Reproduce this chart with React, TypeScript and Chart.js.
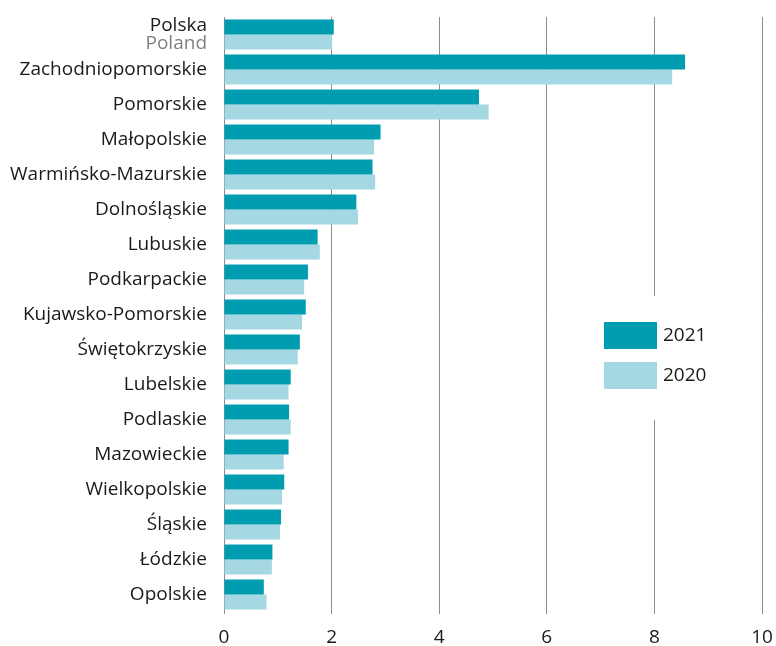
import React, { useEffect, useRef } from "react";
import { Chart, registerables } from "chart.js";

Chart.register(...registerables);

const categories = [
  "Polska",
  "Zachodniopomorskie",
  "Pomorskie",
  "Małopolskie",
  "Warmińsko-Mazurskie",
  "Dolnośląskie",
  "Lubuskie",
  "Podkarpackie",
  "Kujawsko-Pomorskie",
  "Świętokrzyskie",
  "Lubelskie",
  "Podlaskie",
  "Mazowieckie",
  "Wielkopolskie",
  "Śląskie",
  "Łódzkie",
  "Opolskie",
];
const polandSubLabel = "Poland";

const values2021 = [2.04, 8.57, 4.74, 2.91, 2.76, 2.46, 1.74, 1.56, 1.52, 1.41, 1.24, 1.21, 1.2, 1.12, 1.06, 0.9, 0.74];
const values2020 = [2.01, 8.33, 4.92, 2.79, 2.81, 2.49, 1.78, 1.49, 1.45, 1.37, 1.2, 1.24, 1.11, 1.08, 1.04, 0.89, 0.79];

const seriesLabels = ["2021", "2020"];
const xMin = 0;
const xMax = 10;
const xStep = 2;

const COLOR_2021 = "#009db1";
const COLOR_2020 = "#a5d8e3";
const FONT = "'Open Sans', sans-serif";

export default function App() {
  const canvasRef = useRef<HTMLCanvasElement | null>(null);

  useEffect(() => {
    document.body.style.margin = "0";
    const canvas = canvasRef.current;
    if (!canvas) return;

    const labelsPlugin = {
      id: "customLabels",
      afterDraw(chart: any) {
        const ctx = chart.ctx;
        const yScale = chart.scales.y;
        const area = chart.chartArea;
        ctx.save();
        ctx.font = `19px ${FONT}`;
        ctx.textAlign = "right";
        ctx.textBaseline = "middle";
        categories.forEach((c, i) => {
          const y = yScale.getPixelForValue(i);
          const x = area.left - 17;
          if (i === 0) {
            ctx.fillStyle = "#1a1a1a";
            ctx.fillText(c, x, y - 9);
            ctx.fillStyle = "#808080";
            ctx.fillText(polandSubLabel, x, y + 9);
          } else {
            ctx.fillStyle = "#1a1a1a";
            ctx.fillText(c, x, y);
          }
        });

        // legend box
        const boxLeft = area.left + 368;
        const boxTop = 296;
        ctx.fillStyle = "#ffffff";
        ctx.fillRect(boxLeft, boxTop, 140, 124);
        const colors = [COLOR_2021, COLOR_2020];
        seriesLabels.forEach((s, i) => {
          const top = 322 + i * 40;
          ctx.fillStyle = colors[i];
          ctx.fillRect(area.left + 380, top, 53, 27);
          ctx.fillStyle = "#1a1a1a";
          ctx.textAlign = "left";
          ctx.fillText(s, area.left + 439, top + 14);
        });
        ctx.restore();
      },
    };

    const chart = new Chart(canvas, {
      type: "bar",
      data: {
        labels: categories,
        datasets: [
          {
            label: seriesLabels[0],
            data: values2021,
            backgroundColor: COLOR_2021,
            categoryPercentage: 0.86,
            barPercentage: 1,
          },
          {
            label: seriesLabels[1],
            data: values2020,
            backgroundColor: COLOR_2020,
            categoryPercentage: 0.86,
            barPercentage: 1,
          },
        ],
      },
      options: {
        indexAxis: "y",
        animation: false,
        responsive: true,
        maintainAspectRatio: false,
        layout: { padding: { top: 17, right: 14, left: 0, bottom: 0 } },
        plugins: {
          legend: { display: false },
          tooltip: { enabled: false },
        },
        scales: {
          y: {
            type: "category",
            grid: { display: false },
            border: { display: false },
            ticks: { display: false },
            afterFit(scale: any) {
              scale.width = 224;
            },
          },
          x: {
            type: "linear",
            min: xMin,
            max: xMax,
            grid: {
              color: "#8c8c8c",
              lineWidth: 1,
              drawTicks: true,
              tickLength: 2,
            },
            border: { display: false },
            ticks: {
              stepSize: xStep,
              font: { family: FONT, size: 19 },
              color: "#1a1a1a",
              padding: 12,
            },
            afterFit(scale: any) {
              scale.height = 34;
              scale.paddingLeft = 0;
              scale.paddingRight = 0;
            },
          },
        },
      },
      plugins: [labelsPlugin],
    });

    return () => chart.destroy();
  }, []);

  return (
    <div style={{ width: 776, height: 646, position: "relative" }}>
      <canvas ref={canvasRef} />
    </div>
  );
}
